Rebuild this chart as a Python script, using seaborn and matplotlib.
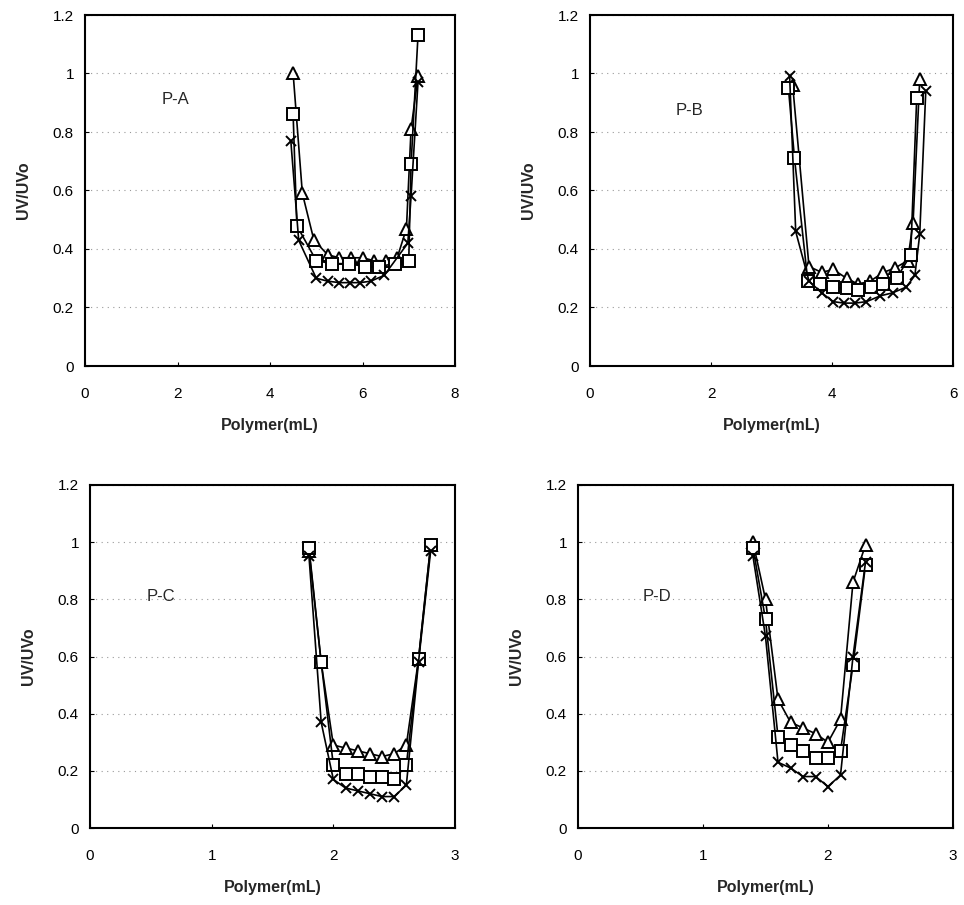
import numpy as np
import pandas as pd
import matplotlib
matplotlib.use("Agg")
import matplotlib.pyplot as plt
from matplotlib.ticker import FuncFormatter
import seaborn as sns

# ---- data ----
# P-A
a_tri_x = [4.5, 4.7, 4.95, 5.25, 5.5, 5.75, 6.0, 6.25, 6.5, 6.75, 6.95, 7.05, 7.2]
a_tri_y = [1.0, 0.59, 0.43, 0.38, 0.37, 0.37, 0.37, 0.36, 0.36, 0.37, 0.47, 0.81, 0.99]
a_sq_x = [4.5, 4.58, 5.0, 5.35, 5.7, 6.05, 6.35, 6.7, 7.0, 7.05, 7.2]
a_sq_y = [0.86, 0.48, 0.36, 0.35, 0.35, 0.34, 0.34, 0.35, 0.36, 0.69, 1.13]
a_x_x = [4.45, 4.62, 5.0, 5.25, 5.5, 5.72, 5.95, 6.18, 6.47, 6.98, 7.05, 7.2]
a_x_y = [0.77, 0.43, 0.30, 0.29, 0.285, 0.285, 0.285, 0.29, 0.31, 0.42, 0.58, 0.97]

# P-B
b_tri_x = [3.35, 3.62, 3.83, 4.02, 4.24, 4.43, 4.63, 4.85, 5.04, 5.25, 5.34, 5.45]
b_tri_y = [0.96, 0.34, 0.32, 0.33, 0.30, 0.28, 0.29, 0.32, 0.335, 0.36, 0.49, 0.98]
b_sq_x = [3.28, 3.38, 3.6, 3.8, 4.02, 4.24, 4.43, 4.65, 4.85, 5.07, 5.3, 5.4]
b_sq_y = [0.95, 0.71, 0.29, 0.28, 0.27, 0.265, 0.26, 0.27, 0.28, 0.30, 0.38, 0.915]
b_x_x = [3.3, 3.4, 3.62, 3.83, 4.02, 4.2, 4.38, 4.57, 4.8, 5.0, 5.23, 5.37, 5.45, 5.55]
b_x_y = [0.99, 0.46, 0.29, 0.25, 0.22, 0.215, 0.215, 0.22, 0.24, 0.25, 0.27, 0.31, 0.45, 0.94]

# P-C
c_x = [1.8, 1.9, 2.0, 2.1, 2.2, 2.3, 2.4, 2.5, 2.6, 2.7, 2.8]
c_tri_y = [0.97, 0.58, 0.29, 0.28, 0.27, 0.26, 0.25, 0.26, 0.29, 0.59, 0.99]
c_sq_y = [0.98, 0.58, 0.22, 0.19, 0.19, 0.18, 0.18, 0.17, 0.22, 0.59, 0.99]
c_x_y = [0.95, 0.37, 0.17, 0.14, 0.13, 0.12, 0.11, 0.11, 0.15, 0.58, 0.97]

# P-D
d_x = [1.4, 1.5, 1.6, 1.7, 1.8, 1.9, 2.0, 2.1, 2.2, 2.3]
d_tri_y = [1.0, 0.80, 0.45, 0.37, 0.35, 0.33, 0.30, 0.38, 0.86, 0.99]
d_sq_y = [0.98, 0.73, 0.32, 0.29, 0.27, 0.245, 0.245, 0.27, 0.57, 0.92]
d_x_y = [0.95, 0.67, 0.23, 0.21, 0.18, 0.18, 0.145, 0.185, 0.60, 0.93]

panel_names = ["P-A", "P-B", "P-C", "P-D"]
x_max = [8, 6, 3, 3]
x_step = [2, 2, 1, 1]
y_ticks = [0, 0.2, 0.4, 0.6, 0.8, 1.0, 1.2]

sns.set_theme(style="ticks")
plt.rcParams['font.family'] = ['Liberation Sans', 'DejaVu Sans']

fig = plt.figure(figsize=(9.64, 9.05), dpi=100)
rects = [
    [85 / 964, 1 - 366 / 905, 370 / 964, 351 / 905],
    [590 / 964, 1 - 366 / 905, 363 / 964, 351 / 905],
    [90 / 964, 1 - 828 / 905, 365 / 964, 343 / 905],
    [578 / 964, 1 - 828 / 905, 375 / 964, 343 / 905],
]

panels = [
    [(a_tri_x, a_tri_y), (a_sq_x, a_sq_y), (a_x_x, a_x_y)],
    [(b_tri_x, b_tri_y), (b_sq_x, b_sq_y), (b_x_x, b_x_y)],
    [(c_x, c_tri_y), (c_x, c_sq_y), (c_x, c_x_y)],
    [(d_x, d_tri_y), (d_x, d_sq_y), (d_x, d_x_y)],
]
label_pos = [(1.95, 0.91), (1.65, 0.875), (0.58, 0.81), (0.63, 0.81)]
markers = ["^", "s", "x"]

for i in range(4):
    ax = fig.add_axes(rects[i])
    for (xs, ys), m in zip(panels[i], markers):
        df = pd.DataFrame({"x": xs, "y": ys})
        sns.lineplot(data=df, x="x", y="y", ax=ax, color="black", lw=1.2,
                     marker=m, markersize=8.5 if m != "x" else 7.5,
                     markerfacecolor="white", markeredgecolor="black",
                     markeredgewidth=1.4, sort=False, zorder=3)
    ax.set_xlim(0, x_max[i])
    ax.set_ylim(0, 1.2)
    ax.set_xticks(np.arange(0, x_max[i] + 0.01, x_step[i]))
    ax.set_yticks(y_ticks)
    ax.xaxis.set_major_formatter(FuncFormatter(lambda v, p: "%g" % v))
    ax.yaxis.set_major_formatter(FuncFormatter(lambda v, p: "%g" % round(v, 1)))
    ax.yaxis.grid(True, color="#999999", linestyle=(0, (1, 4)), lw=0.8)
    ax.tick_params(direction="in", length=3, width=0.8, labelsize=11,
                   colors="black")
    ax.tick_params(axis="x", pad=15)
    ax.tick_params(axis="y", pad=8)
    for s in ax.spines.values():
        s.set_visible(True)
        s.set_linewidth(1.5)
        s.set_color("black")
    ax.set_xlabel("Polymer(mL)", fontsize=11.5, fontweight="bold", labelpad=12)
    ax.set_ylabel("UV/UVo", fontsize=11.5, fontweight="bold", labelpad=16)
    ax.text(label_pos[i][0], label_pos[i][1], panel_names[i], fontsize=12,
            ha="center", va="center")

fig.savefig("out.png", dpi=100, facecolor="white")
